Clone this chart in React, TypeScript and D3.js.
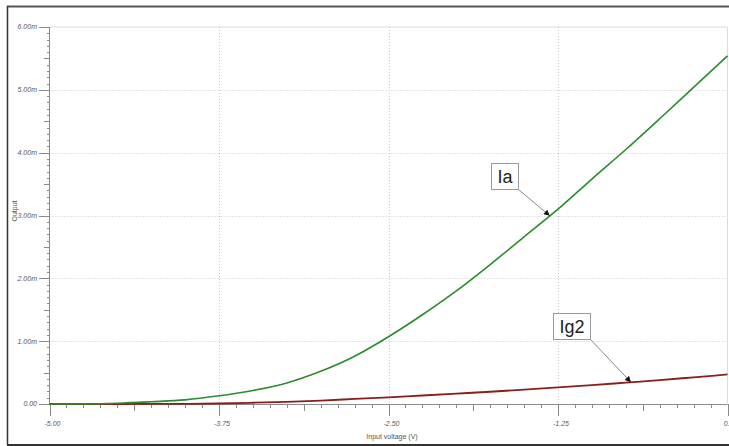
import React from "react";
import * as d3 from "d3";

const voltages = [-5, -4.75, -4.5, -4.25, -4, -3.75, -3.5, -3.25, -3, -2.75, -2.5, -2.25, -2, -1.75, -1.5, -1.25, -1, -0.75, -0.5, -0.25, 0];
const iaValues = [0, 0.002, 0.012, 0.036, 0.066, 0.13, 0.215, 0.335, 0.52, 0.76, 1.07, 1.42, 1.8, 2.22, 2.66, 3.1, 3.58, 4.05, 4.54, 5.04, 5.54];
const ig2Values = [0, 0, 0, 0.001, 0.003, 0.008, 0.02, 0.035, 0.055, 0.08, 0.105, 0.135, 0.165, 0.195, 0.23, 0.265, 0.3, 0.34, 0.38, 0.425, 0.47];
const xTickValues = [-5, -3.75, -2.5, -1.25, 0];
const xTickLabels = ["-5.00", "-3.75", "-2.50", "-1.25", "0.00"];
const yTickValues = [0, 1, 2, 3, 4, 5, 6];
const yTickLabels = ["0.00", "1.00m", "2.00m", "3.00m", "4.00m", "5.00m", "6.00m"];
const annotations = [
  { label: "Ia", series: "ia", at: -1.31 },
  { label: "Ig2", series: "ig2", at: -0.712 },
];

const W = 729;
const H = 446;
const FONT = "'Liberation Sans Narrow', 'Liberation Sans', Arial, sans-serif";

export default function App() {
  const x = d3.scaleLinear().domain([-5, 0]).range([49.5, 727.5]);
  const y = d3.scaleLinear().domain([0, 6]).range([404, 27]);

  const iaData = voltages.map((v, i) => [v, iaValues[i]] as [number, number]);
  const ig2Data = voltages.map((v, i) => [v, ig2Values[i]] as [number, number]);
  const line = d3
    .line<[number, number]>()
    .x((d) => x(d[0]))
    .y((d) => y(d[1]))
    .curve(d3.curveMonotoneX);

  const interp = (vals: number[], v: number) => {
    const i = Math.min(voltages.length - 2, Math.max(0, d3.bisectRight(voltages, v) - 1));
    const t = (v - voltages[i]) / (voltages[i + 1] - voltages[i]);
    return vals[i] + t * (vals[i + 1] - vals[i]);
  };

  const xMinor = d3.range(0, 41).map((i) => ({ v: -5 + i * 0.125, kind: i % 10 === 0 ? 2 : i % 5 === 0 ? 1 : 0 }));
  const yMinor = d3.range(0, 61).map((i) => ({ v: i * 0.1, kind: i % 10 === 0 ? 2 : i % 5 === 0 ? 1 : 0 }));

  const boxes: Record<string, { bx: number; by: number; bw: number; bh: number }> = {
    Ia: { bx: 491.5, by: 163.5, bw: 27, bh: 26 },
    Ig2: { bx: 553.5, by: 313.5, bw: 37, bh: 26 },
  };

  return (
    <svg width={W} height={H} style={{ position: "absolute", left: 0, top: 0, background: "#fff" }} fontFamily={FONT}>
      <defs>
        <marker id="ah" viewBox="0 0 10 10" refX="10" refY="5" markerWidth="7" markerHeight="6" orient="auto" markerUnits="userSpaceOnUse">
          <path d="M0,0 L10,5 L0,10 z" fill="#111" />
        </marker>
      </defs>
      <rect x={0} y={0} width={W} height={H} fill="#fff" />
      {/* outer frame */}
      <line x1={7} y1={6.5} x2={W} y2={6.5} stroke="#555" strokeWidth={2} />
      <line x1={7.5} y1={6} x2={7.5} y2={445} stroke="#333" strokeWidth={1.5} />
      <line x1={7} y1={445} x2={W} y2={445} stroke="#333" strokeWidth={2} />

      {/* plot border */}
      <line x1={49.5} y1={27} x2={727.5} y2={27} stroke="#dcdcdc" strokeWidth={1} />
      <line x1={727.5} y1={27} x2={727.5} y2={404} stroke="#dcdcdc" strokeWidth={1} />

      {/* grid */}
      {yTickValues.filter((v) => v > 0 && v < 6).map((v) => (
        <line key={"gy" + v} x1={49.5} x2={727.5} y1={Math.round(y(v)) + 0.5} y2={Math.round(y(v)) + 0.5} stroke="#c8c8c8" strokeWidth={1} strokeDasharray="1,2" />
      ))}
      {xTickValues.filter((v) => v > -5 && v < 0).map((v) => (
        <line key={"gx" + v} y1={27} y2={404} x1={Math.round(x(v)) + 0.5} x2={Math.round(x(v)) + 0.5} stroke="#c8c8c8" strokeWidth={1} strokeDasharray="1,2" />
      ))}

      {/* axes */}
      <line x1={49.5} y1={27} x2={49.5} y2={404} stroke="#8a8a8a" strokeWidth={1} />
      <line x1={49.5} y1={404.5} x2={727.5} y2={404.5} stroke="#8a8a8a" strokeWidth={1} />
      {yMinor.map((t, i) => {
        const yy = Math.round(y(t.v)) + 0.5;
        const x1 = t.kind === 2 ? 39 : t.kind === 1 ? 44 : 47;
        return <line key={"ym" + i} x1={x1} x2={t.kind === 0 ? 50 : 49.5} y1={yy} y2={yy} stroke="#8a8a8a" strokeWidth={1} />;
      })}
      {xMinor.map((t, i) => {
        const xx = Math.round(x(t.v)) + 0.5;
        const len = t.kind === 2 ? 12 : t.kind === 1 ? 7 : 4;
        return <line key={"xm" + i} x1={xx} x2={xx} y1={404} y2={404 + len} stroke="#8a8a8a" strokeWidth={1} />;
      })}

      {/* tick labels */}
      {yTickValues.map((v, i) => (
        <text key={"yl" + v} x={37} y={y(v)} dy="0.35em" textAnchor="end" fontSize={7} fontStyle="italic" fill="#555">
          {yTickLabels[i]}
        </text>
      ))}
      {xTickValues.map((v, i) => (
        <text key={"xl" + v} x={x(v) + 3} y={424} dy="0.35em" textAnchor="middle" fontSize={7} fontStyle="italic" fill="#555">
          {xTickLabels[i]}
        </text>
      ))}
      <text x={392} y={437} dy="0.35em" textAnchor="middle" fontSize={7} fill="#555">
        Input voltage (V)
      </text>
      <text transform="translate(14.5,211) rotate(-90)" textAnchor="middle" dy="0.35em" fontSize={7} fill="#555">
        Output
      </text>

      {/* series */}
      <path d={line(ig2Data) || ""} fill="none" stroke="#8b1d1d" strokeWidth={1.8} />
      <path d={line(iaData) || ""} fill="none" stroke="#2a8c2a" strokeWidth={1.6} />

      {/* annotations */}
      {annotations.map((a) => {
        const b = boxes[a.label];
        const vals = a.series === "ia" ? iaValues : ig2Values;
        const tx = x(a.at);
        const ty = y(interp(vals, a.at));
        return (
          <g key={a.label}>
            <line x1={b.bx + b.bw} y1={b.by + b.bh} x2={tx} y2={ty} stroke="#8a8a8a" strokeWidth={1} markerEnd="url(#ah)" />
            <rect x={b.bx} y={b.by} width={b.bw} height={b.bh} fill="#fff" stroke="#999" strokeWidth={1} />
            <text x={b.bx + b.bw / 2} y={b.by + b.bh / 2} dy="0.36em" textAnchor="middle" fontSize={18} fill="#222" fontFamily="'Liberation Sans', Arial, sans-serif">
              {a.label}
            </text>
          </g>
        );
      })}
    </svg>
  );
}
